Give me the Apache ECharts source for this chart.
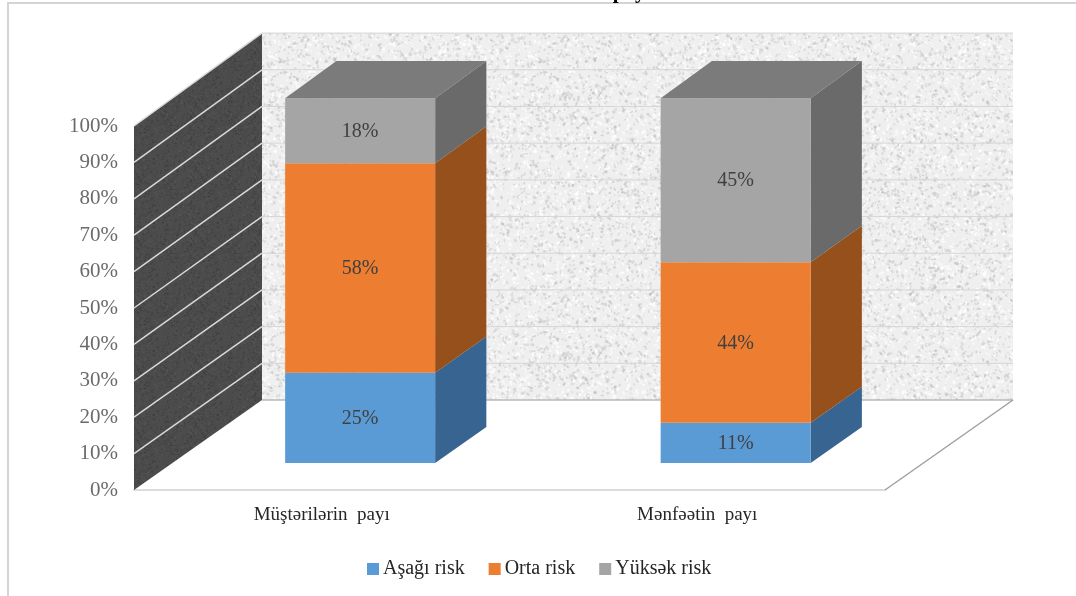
<!DOCTYPE html>
<html>
<head>
<meta charset="utf-8">
<style>
  html, body { margin: 0; padding: 0; background: #fff; }
  #chart { width: 1076px; height: 596px; }
</style>
<script src="https://cdn.jsdelivr.net/npm/echarts@6/dist/echarts.min.js"></script>
</head>
<body>
<div id="chart"></div>
<script>
// Risk shares per indicator (percent), as printed on the bars.
const categories = ['Müştərilərin  payı', 'Mənfəətin  payı'];
const lowRisk = [25, 11];
const midRisk = [58, 44];
const highRisk = [18, 45];
const seriesNames = ['Aşağı risk', 'Orta risk', 'Yüksək risk'];
const yTicks = [0, 10, 20, 30, 40, 50, 60, 70, 80, 90, 100];

const FONT = '"Liberation Serif", "Times New Roman", serif';
const faceColors = [
  { front: '#5b9bd5', side: '#376491', top: '#4a7fb0' },
  { front: '#ed7d31', side: '#96501c', top: '#b5602a' },
  { front: '#a5a5a5', side: '#6a6a6a', top: '#7b7b7b' }
];

// Oblique projection of the floor depth: depth 0 is the front edge, 1 the back wall.
const DEPTH_X = 128, DEPTH_Y = 90, DEPTH_STRETCH = 0.008;
const BAR_WIDTH = 150, BAR_DEPTH_FROM = 0.3, BAR_DEPTH_TO = 0.7;

function project(api, coordSys, x, value, depth) {
  const base = coordSys.y + coordSys.height;
  const y = api.coord([0, value])[1];
  return [x + DEPTH_X * depth, base - (base - y) * (1 + DEPTH_STRETCH * depth) - DEPTH_Y * depth];
}

// Deterministic speckle tile for the two walls.
function speckleTile(size, base, spots, count, radius, seed) {
  const canvas = document.createElement('canvas');
  canvas.width = canvas.height = size;
  const ctx = canvas.getContext('2d');
  ctx.fillStyle = base;
  ctx.fillRect(0, 0, size, size);
  let s = seed;
  const next = () => (s = (s * 16807) % 2147483647) / 2147483647;
  for (let i = 0; i < count; i++) {
    ctx.fillStyle = spots[Math.floor(next() * spots.length)];
    ctx.beginPath();
    ctx.ellipse(next() * size, next() * size, radius * (0.4 + next()), radius * (0.3 + next() * 0.6),
      next() * Math.PI, 0, Math.PI * 2);
    ctx.fill();
  }
  return canvas;
}
const backTile = speckleTile(260, '#efefef',
  ['rgba(255,255,255,0.75)', 'rgba(190,190,190,0.38)', 'rgba(150,150,150,0.28)', 'rgba(255,255,255,0.5)'],
  5200, 1.7, 4217);
const sideTile = speckleTile(64, '#4c4c4c',
  ['rgba(70,70,70,0.9)', 'rgba(92,92,92,0.6)', 'rgba(60,60,60,0.8)'], 900, 0.9, 911);

function renderWalls(params, api) {
  const cs = params.coordSys;
  const value = api.value(0);
  const left = cs.x, right = cs.x + cs.width;
  const children = [];
  const polygon = (points, fill, z2) => ({
    type: 'polygon', z2: z2, shape: { points: points }, style: { fill: fill }, silent: true
  });
  const line = (a, b, stroke, width, z2) => ({
    type: 'line', z2: z2, silent: true,
    shape: { x1: a[0], y1: a[1], x2: b[0], y2: b[1] },
    style: { stroke: stroke, lineWidth: width }
  });
  if (params.dataIndex === 0) {
    const top = yTicks[yTicks.length - 1];
    children.push(polygon([
      project(api, cs, left, value, 1), project(api, cs, right, value, 1),
      project(api, cs, right, top, 1), project(api, cs, left, top, 1)
    ], { image: backTile, repeat: 'repeat' }, 0));
    children.push(polygon([
      project(api, cs, left, value, 0), project(api, cs, left, value, 1),
      project(api, cs, left, top, 1), project(api, cs, left, top, 0)
    ], { image: sideTile, repeat: 'repeat' }, 1));
    children.push(line(project(api, cs, left, value, 1), project(api, cs, right, value, 1), '#b8b8b8', 1.5, 3));
    children.push(line(project(api, cs, right, value, 0), project(api, cs, right, value, 1), '#a0a0a0', 1.5, 3));
  } else {
    children.push(line(project(api, cs, left, value, 1), project(api, cs, right, value, 1), '#d6d6d6', 1, 2));
    children.push(line(project(api, cs, left, value, 0), project(api, cs, left, value, 1), '#d9d9d9', 1.5, 3));
  }
  return { type: 'group', children: children };
}

function stackedBox(seriesIndex) {
  return function (params, api) {
    const cs = params.coordSys;
    const cat = api.value(0), from = api.value(1), to = api.value(2);
    const colors = faceColors[seriesIndex];
    const xLeft = api.coord([cat, 0])[0] - BAR_WIDTH / 2;
    const xRight = xLeft + BAR_WIDTH;
    const p = (x, v, d) => project(api, cs, x, v, d);
    const d0 = BAR_DEPTH_FROM, d1 = BAR_DEPTH_TO;
    const face = (points, fill) => ({ type: 'polygon', shape: { points: points }, style: { fill: fill } });
    const children = [
      face([p(xRight, from, d0), p(xRight, from, d1), p(xRight, to, d1), p(xRight, to, d0)], colors.side),
      face([p(xLeft, from, d0), p(xRight, from, d0), p(xRight, to, d0), p(xLeft, to, d0)], colors.front)
    ];
    if (to >= 99.99) {
      children.push(face([p(xLeft, to, d0), p(xRight, to, d0), p(xRight, to, d1), p(xLeft, to, d1)], colors.top));
    }
    const a = p(xLeft, from, d0), b = p(xRight, to, d0);
    children.push({
      type: 'text', z2: 10,
      style: {
        x: (a[0] + b[0]) / 2, y: (a[1] + b[1]) / 2 + 1,
        text: api.value(3) + '%', align: 'center', verticalAlign: 'middle',
        fill: '#404040', font: '20px ' + FONT
      }
    });
    return { type: 'group', children: children };
  };
}

// Stack each column to a 100% total.
const allValues = [lowRisk, midRisk, highRisk];
const totals = categories.map((_, c) => allValues.reduce((sum, arr) => sum + arr[c], 0));
const running = categories.map(() => 0);
const boxSeries = allValues.map((values, s) => {
  const rows = values.map((v, c) => {
    const from = running[c];
    running[c] += v / totals[c] * 100;
    return [c, from, running[c], v];
  });
  return {
    type: 'custom', name: seriesNames[s], coordinateSystem: 'cartesian2d',
    renderItem: stackedBox(s), clip: false, z: 5,
    itemStyle: { color: faceColors[s].front },
    encode: { x: 0, y: [1, 2] }, data: rows
  };
});

const chart = echarts.init(document.getElementById('chart'), null, { renderer: 'canvas' });
chart.setOption({
  animation: false,
  backgroundColor: '#ffffff',
  grid: { left: 134, top: 126, width: 751, height: 364 },
  legend: {
    data: seriesNames, left: 362, top: 554, icon: 'rect', itemWidth: 12, itemHeight: 12,
    itemGap: 24, textStyle: { fontFamily: FONT, fontSize: 20, color: '#262626', padding: [0, 0, 0, -1] }
  },
  xAxis: {
    type: 'category', data: categories,
    axisLine: { show: true, lineStyle: { color: '#dcdcdc', width: 2 } },
    axisTick: { show: false },
    axisLabel: { margin: 16, fontFamily: FONT, fontSize: 19, color: '#262626' }
  },
  yAxis: {
    type: 'value', min: 0, max: 100, interval: 10,
    axisLine: { show: false }, axisTick: { show: false }, splitLine: { show: false },
    axisLabel: { margin: 16, fontFamily: FONT, fontSize: 21, color: '#6b6b6b', formatter: '{value}%' }
  },
  series: [{
    type: 'custom', name: 'walls', coordinateSystem: 'cartesian2d', renderItem: renderWalls,
    clip: false, z: 1, silent: true, encode: { y: 0 }, data: yTicks.map(t => [t])
  }].concat(boxSeries),
  graphic: [
    { type: 'rect', shape: { x: 8, y: 3, width: 1200, height: 800 }, style: { fill: 'none', stroke: '#d4d4d4', lineWidth: 2 }, silent: true },
    { type: 'text', style: { x: 632, y: -18, text: 'payı', align: 'center', fill: '#000', font: 'bold 21px ' + FONT }, silent: true }
  ]
});
</script>
</body>
</html>
